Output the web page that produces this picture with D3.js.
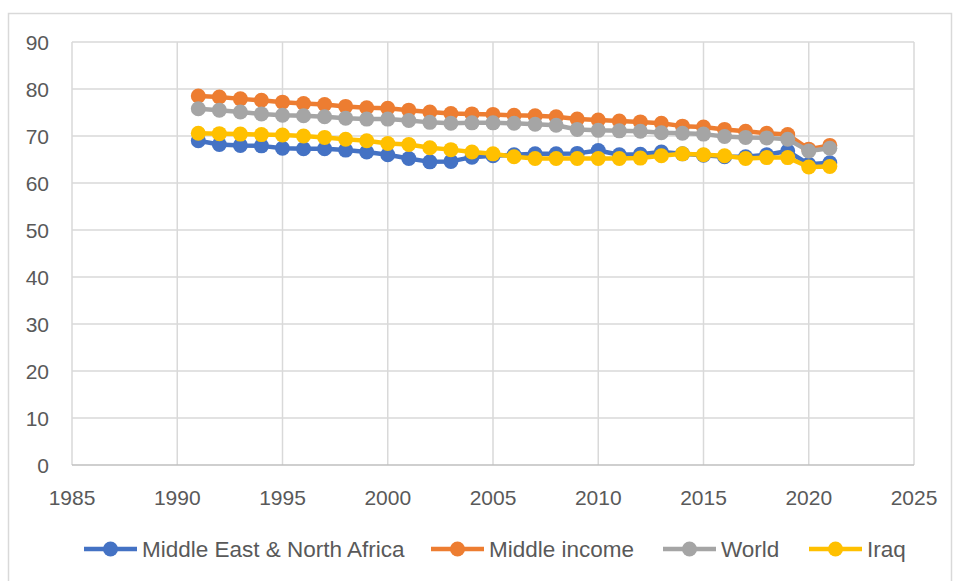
<!DOCTYPE html>
<html>
<head>
<meta charset="utf-8">
<script src="https://cdn.jsdelivr.net/npm/d3@7"></script>
<style>
  body { margin: 0; background: #fff; }
  text { font-family: "Liberation Sans", Arial, sans-serif; fill: #595959; }
</style>
</head>
<body>
<svg id="chart" width="953" height="581"></svg>
<script>
// data
var years = d3.range(1991, 2022);
var mena = [69.0, 68.2, 68.0, 67.9, 67.4, 67.3, 67.3, 67.0, 66.6, 66.0,
            65.2, 64.5, 64.6, 65.5, 65.8, 66.0, 66.2, 66.2, 66.3, 66.9,
            66.0, 66.1, 66.6, 66.2, 65.9, 65.6, 65.6, 66.0, 66.8, 64.0, 64.3];
var middleIncome = [78.5, 78.3, 77.9, 77.6, 77.2, 76.9, 76.7, 76.3, 76.0, 75.9,
                    75.5, 75.1, 74.8, 74.7, 74.6, 74.4, 74.3, 74.1, 73.6, 73.4,
                    73.2, 73.0, 72.7, 72.1, 71.9, 71.4, 71.0, 70.6, 70.3, 67.2, 68.0];
var world = [75.8, 75.5, 75.1, 74.7, 74.4, 74.3, 74.1, 73.8, 73.6, 73.6,
             73.3, 72.9, 72.7, 72.8, 72.8, 72.7, 72.5, 72.3, 71.4, 71.2,
             71.1, 71.0, 70.7, 70.6, 70.4, 69.9, 69.7, 69.6, 69.3, 66.8, 67.4];
var iraq = [70.6, 70.5, 70.4, 70.3, 70.2, 70.0, 69.7, 69.3, 69.0, 68.4,
            68.2, 67.5, 67.1, 66.6, 66.2, 65.6, 65.2, 65.2, 65.2, 65.2,
            65.2, 65.3, 65.8, 66.2, 66.0, 65.8, 65.2, 65.4, 65.4, 63.4, 63.5];
var seriesNames = ["Middle East & North Africa", "Middle income", "World", "Iraq"];
var seriesColors = ["#4472C4", "#ED7D31", "#A5A5A5", "#FFC000"];
var xTicks = [1985, 1990, 1995, 2000, 2005, 2010, 2015, 2020, 2025];
var yTicks = [0, 10, 20, 30, 40, 50, 60, 70, 80, 90];

var svg = d3.select("#chart");

// outer chart border
svg.append("rect")
    .attr("x", 8.5).attr("y", 13.5)
    .attr("width", 943).attr("height", 600)
    .attr("fill", "none")
    .attr("stroke", "#d9d9d9")
    .attr("stroke-width", 1.5);

var x = d3.scaleLinear().domain([1985, 2025]).range([72, 914]);
var y = d3.scaleLinear().domain([0, 90]).range([465, 42]);

// gridlines
svg.append("g").selectAll("line")
  .data(yTicks.slice(1))
  .enter().append("line")
    .attr("x1", x(1985)).attr("x2", x(2025))
    .attr("y1", function(d) { return y(d); })
    .attr("y2", function(d) { return y(d); })
    .attr("stroke", "#d9d9d9").attr("stroke-width", 1.5);

svg.append("g").selectAll("line")
  .data(xTicks)
  .enter().append("line")
    .attr("x1", function(d) { return x(d); })
    .attr("x2", function(d) { return x(d); })
    .attr("y1", y(0)).attr("y2", y(90))
    .attr("stroke", "#d9d9d9").attr("stroke-width", 1.5);

// x axis line
svg.append("line")
    .attr("x1", x(1985)).attr("x2", x(2025))
    .attr("y1", y(0)).attr("y2", y(0))
    .attr("stroke", "#bfbfbf").attr("stroke-width", 1.5);

// tick labels
svg.append("g").selectAll("text")
  .data(yTicks)
  .enter().append("text")
    .attr("x", 49)
    .attr("y", function(d) { return y(d); })
    .attr("dy", "0.36em")
    .attr("text-anchor", "end")
    .attr("font-size", 21)
    .text(function(d) { return d; });

svg.append("g").selectAll("text")
  .data(xTicks)
  .enter().append("text")
    .attr("x", function(d) { return x(d); })
    .attr("y", 497)
    .attr("dy", "0.36em")
    .attr("text-anchor", "middle")
    .attr("font-size", 21)
    .text(function(d) { return d; });

// series
var allSeries = [mena, middleIncome, world, iraq];
var line = d3.line()
    .x(function(d) { return x(d.year); })
    .y(function(d) { return y(d.value); });

allSeries.forEach(function(vals, i) {
  var pts = years.map(function(yr, j) { return {year: yr, value: vals[j]}; });
  var g = svg.append("g");
  g.append("path")
      .datum(pts)
      .attr("d", line)
      .attr("fill", "none")
      .attr("stroke", seriesColors[i])
      .attr("stroke-width", 4.5)
      .attr("stroke-linejoin", "round");
  g.selectAll("circle")
    .data(pts)
    .enter().append("circle")
      .attr("cx", function(d) { return x(d.year); })
      .attr("cy", function(d) { return y(d.value); })
      .attr("r", 7.5)
      .attr("fill", seriesColors[i]);
});

// legend
var legendX = [84, 431, 663, 809];
var legend = svg.append("g").selectAll("g")
  .data(seriesNames)
  .enter().append("g")
    .attr("transform", function(d, i) { return "translate(" + legendX[i] + ",549)"; });

legend.append("line")
    .attr("x1", 0).attr("x2", 53)
    .attr("stroke", function(d, i) { return seriesColors[i]; })
    .attr("stroke-width", 4.5);

legend.append("circle")
    .attr("cx", 26.5).attr("r", 7.5)
    .attr("fill", function(d, i) { return seriesColors[i]; });

legend.append("text")
    .attr("x", 58)
    .attr("dy", "0.36em")
    .attr("font-size", 22.5)
    .text(function(d) { return d; });
</script>
</body>
</html>
